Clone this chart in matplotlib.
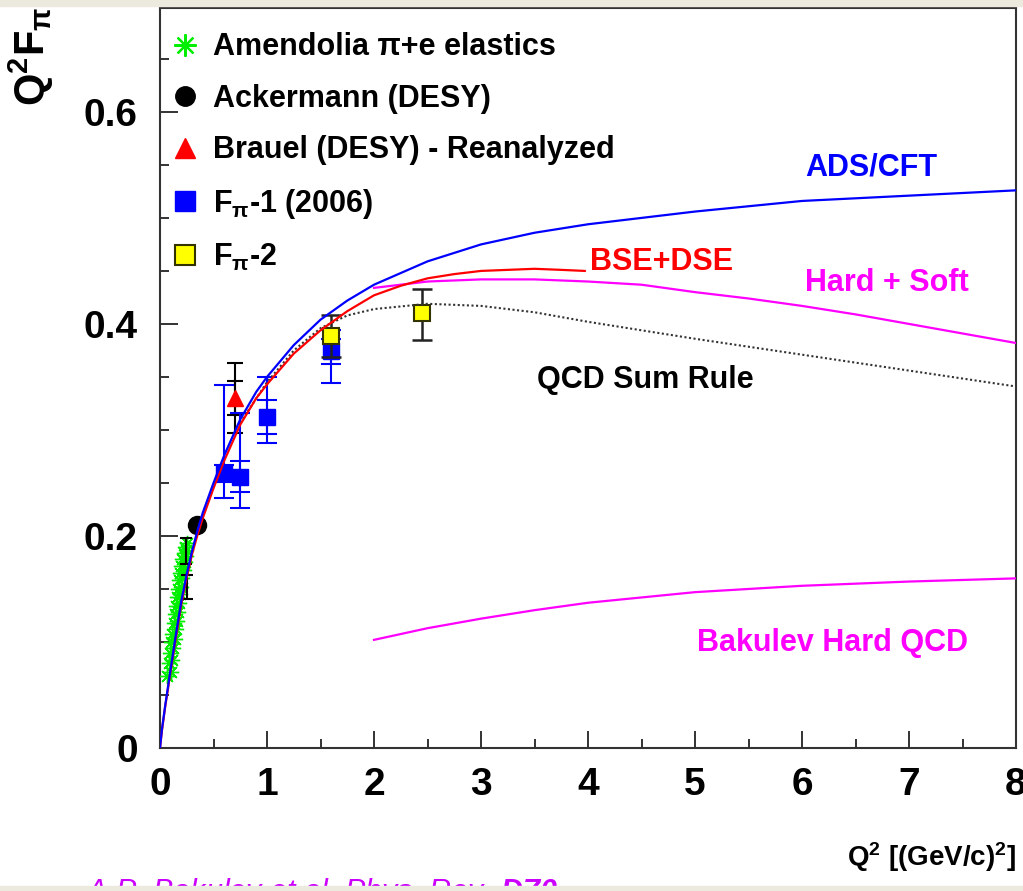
import matplotlib
matplotlib.use("Agg")
import matplotlib.pyplot as plt
from matplotlib.lines import Line2D
from matplotlib.patches import Rectangle
from matplotlib.ticker import MultipleLocator, FixedLocator, FixedFormatter

plt.rcParams["font.family"] = ["Liberation Sans", "DejaVu Sans"]
plt.rcParams["font.weight"] = "bold"
plt.rcParams["mathtext.fontset"] = "custom"
plt.rcParams["mathtext.rm"] = "Liberation Sans:bold"
plt.rcParams["mathtext.it"] = "Liberation Sans:italic:bold"
plt.rcParams["mathtext.bf"] = "Liberation Sans:italic:bold"

# ---- courbes theoriques ----
ads_q2 = [0, 0.01, 0.02, 0.035, 0.05, 0.075, 0.1, 0.15, 0.2, 0.25, 0.3, 0.35, 0.4, 0.5,
          0.6, 0.75, 0.9, 1.0, 1.25, 1.5, 1.75, 2.0, 2.5, 3.0, 3.5, 4.0, 4.5, 5.0, 6.0,
          7.0, 8.0]
ads = [0, 0.010, 0.019, 0.030, 0.041, 0.058, 0.075, 0.108, 0.139, 0.164, 0.186, 0.205,
       0.222, 0.250, 0.276, 0.310, 0.336, 0.350, 0.380, 0.404, 0.422, 0.437, 0.459,
       0.475, 0.486, 0.494, 0.500, 0.506, 0.516, 0.521, 0.526]

bse_q2 = [0, 0.01, 0.02, 0.035, 0.05, 0.075, 0.1, 0.15, 0.2, 0.25, 0.3, 0.35, 0.4, 0.5,
          0.6, 0.75, 0.9, 1.0, 1.25, 1.5, 1.75, 2.0, 2.25, 2.5, 2.75, 3.0, 3.25, 3.5,
          3.75, 3.97]
bse = [0, 0.009, 0.018, 0.029, 0.040, 0.056, 0.073, 0.105, 0.136, 0.161, 0.183, 0.201,
       0.217, 0.245, 0.271, 0.305, 0.330, 0.343, 0.372, 0.394, 0.412, 0.427, 0.436,
       0.443, 0.447, 0.450, 0.451, 0.452, 0.451, 0.450]

qcd_q2 = [0.75, 1.0, 1.25, 1.5, 1.75, 2.0, 2.5, 3.0, 3.5, 4.0, 4.5, 5.0, 6.0, 7.0, 8.0]
qcd = [0.307, 0.345, 0.375, 0.396, 0.408, 0.414, 0.419, 0.417, 0.411, 0.402, 0.394,
       0.386, 0.371, 0.356, 0.341]

hs_q2 = [2.0, 2.5, 3.0, 3.5, 4.0, 4.5, 5.0, 5.5, 6.0, 6.5, 7.0, 7.5, 8.0]
hs = [0.434, 0.440, 0.442, 0.442, 0.440, 0.437, 0.430, 0.424, 0.417, 0.409, 0.400,
      0.391, 0.382]

bk_q2 = [2.0, 2.5, 3.0, 3.5, 4.0, 4.5, 5.0, 5.5, 6.0, 7.0, 8.0]
bk = [0.102, 0.113, 0.122, 0.130, 0.137, 0.142, 0.147, 0.150, 0.153, 0.157, 0.160]

# ---- donnees experimentales ----
am_q2 = [0.07, 0.10, 0.08, 0.115, 0.095, 0.125, 0.105, 0.14, 0.115, 0.15, 0.13, 0.16,
         0.14, 0.17, 0.15, 0.18, 0.16, 0.19, 0.17, 0.20, 0.18, 0.21, 0.19, 0.22,
         0.20, 0.23, 0.21, 0.24, 0.22, 0.245, 0.23, 0.25]
am = [0.068, 0.072, 0.080, 0.083, 0.090, 0.094, 0.100, 0.103, 0.108, 0.112, 0.118,
      0.120, 0.126, 0.128, 0.134, 0.137, 0.142, 0.145, 0.150, 0.152, 0.158, 0.160,
      0.165, 0.168, 0.172, 0.175, 0.178, 0.181, 0.184, 0.187, 0.190, 0.193]
amx_q2 = [0.245, 0.255]          # barres noires isolees
amx = [0.186, 0.152]
amx_err = [0.012, 0.011]

ack_q2 = [0.35]
ack = [0.210]

br_q2 = [0.70]
br = [0.330]
br_stat = [0.016]
br_tot = [0.033]

fp1_q2 = [0.60, 0.75, 1.00, 1.60]
fp1 = [0.259, 0.256, 0.312, 0.374]
fp1_stat = [0.008, 0.015, 0.016, 0.012]
fp1_lo = [0.023, 0.030, 0.024, 0.030]
fp1_hi = [0.083, 0.060, 0.038, 0.020]

fp2_q2 = [1.60, 2.45]
fp2 = [0.389, 0.410]
fp2_lo = [0.020, 0.025]
fp2_hi = [0.019, 0.023]

xtick_vals = [0, 1, 2, 3, 4, 5, 6, 7, 8]
ytick_vals = [0, 0.2, 0.4, 0.6]
ytick_labels = ["0", "0.2", "0.4", "0.6"]

BLUE, RED, MAG, GREEN = "#0000ff", "#ff0000", "#ff00ff", "#00ee00"

W, H = 1023, 891
fig = plt.figure(figsize=(W / 100, H / 100), dpi=100)
fig.patch.set_facecolor("white")
ax = fig.add_axes([160 / W, 1 - 748 / H, (1016 - 160) / W, (748 - 8) / H])
ax.set_xlim(0, 8)
ax.set_ylim(0, 0.698)

# donnees
ax.plot(am_q2, am, ls="none", marker=(8, 2, 0), ms=11, mew=1.0, color=GREEN, zorder=3)
ax.errorbar(amx_q2, amx, yerr=amx_err, fmt="none", ecolor="black", elinewidth=1.5,
            capsize=4, capthick=1.5, zorder=3)
ax.plot(ack_q2, ack, ls="none", marker="o", ms=13, color="black", zorder=3)

ax.errorbar(br_q2, br, yerr=br_tot, fmt="none", ecolor="black", elinewidth=1.5,
            capsize=6, capthick=1.5, zorder=3)
ax.errorbar(br_q2, br, yerr=br_stat, fmt="none", ecolor="black", elinewidth=1.5,
            capsize=6, capthick=1.5, zorder=3)
ax.plot(br_q2, br, ls="none", marker="^", ms=11, color=RED, zorder=4)

ax.errorbar(fp1_q2, fp1, yerr=[fp1_lo, fp1_hi], fmt="none", ecolor=BLUE,
            elinewidth=1.5, capsize=7, capthick=1.5, zorder=3)
ax.errorbar(fp1_q2, fp1, yerr=fp1_stat, fmt="none", ecolor=BLUE, elinewidth=1.5,
            capsize=7, capthick=1.5, zorder=3)
ax.plot(fp1_q2, fp1, ls="none", marker="s", ms=12, color=BLUE, zorder=4)

ax.errorbar(fp2_q2, fp2, yerr=[fp2_lo, fp2_hi], fmt="none", ecolor="#222222",
            elinewidth=1.8, capsize=7, capthick=1.8, zorder=4)
ax.plot(fp2_q2, fp2, ls="none", marker="s", ms=12, mfc="#ffff00", mec="#333300",
        mew=1.5, zorder=5)

# courbes
ax.plot(qcd_q2, qcd, color="#333333", lw=1.5, ls=(0, (1, 1.2)), zorder=6)
ax.plot(hs_q2, hs, color=MAG, lw=1.6, zorder=6)
ax.plot(bk_q2, bk, color=MAG, lw=1.6, zorder=6)
ax.plot(bse_q2, bse, color=RED, lw=1.6, zorder=6)
ax.plot(ads_q2, ads, color=BLUE, lw=1.6, zorder=7)

# etiquettes des courbes
kw = dict(fontsize=22, fontweight="bold", ha="left", va="center")
ax.text(6.03, 0.548, "ADS/CFT", color=BLUE, **kw)
ax.text(4.02, 0.458, "BSE+DSE", color=RED, **kw)
ax.text(6.03, 0.439, "Hard + Soft", color=MAG, **kw)
ax.text(3.52, 0.347, "QCD Sum Rule", color="black", **kw)
ax.text(5.02, 0.099, "Bakulev Hard QCD", color=MAG, **kw)

# legende
handles = [
    Line2D([], [], ls="none", marker=(8, 2, 0), ms=16, mew=1.6, color=GREEN),
    Line2D([], [], ls="none", marker="o", ms=14, color="black"),
    Line2D([], [], ls="none", marker="^", ms=14, color=RED),
    Line2D([], [], ls="none", marker="s", ms=14, color=BLUE),
    Line2D([], [], ls="none", marker="s", ms=14, mfc="#ffff00", mec="#333300", mew=1.5),
]
labels = ["Amendolia \u03c0+e elastics", "Ackermann (DESY)",
          "Brauel (DESY) - Reanalyzed", r"F$_{\mathrm{\pi}}$-1 (2006)",
          r"F$_{\mathrm{\pi}}$-2"]
ax.legend(handles, labels, loc="upper left", bbox_to_anchor=(0.008, 0.967),
          frameon=False, fontsize=22, handlelength=1.2, handletextpad=0.3,
          labelspacing=0.70, borderaxespad=0, borderpad=0)

# axes
for s in ax.spines.values():
    s.set_linewidth(1.5)
    s.set_color("#333333")
ax.xaxis.set_major_locator(FixedLocator(xtick_vals))
ax.xaxis.set_minor_locator(MultipleLocator(0.5))
ax.yaxis.set_major_locator(FixedLocator(ytick_vals))
ax.yaxis.set_major_formatter(FixedFormatter(ytick_labels))
ax.yaxis.set_minor_locator(MultipleLocator(0.05))
ax.tick_params(which="both", direction="in", top=False, right=False,
               color="#333333", width=1.4, labelsize=28)
ax.tick_params(axis="x", which="major", length=12, pad=14)
ax.tick_params(axis="x", which="minor", length=6.5)
ax.tick_params(axis="y", which="major", length=13, pad=16)
ax.tick_params(axis="y", which="minor", length=6.5)

# titres d'axes
fig.text(31 / W, 1 - 106 / H, r"Q$^{2}$F$_{\mathrm{\pi}}$", rotation=90, fontsize=30,
         fontweight="bold", ha="center", va="bottom")
fig.text(1016 / W, 1 - 866 / H, r"Q$^{2}$ [(GeV/c)$^{2}$]", fontsize=20,
         fontweight="bold", ha="right", va="baseline")

# reference (coupee en bas)
fig.text(85 / W, 1 - 901 / H, r"A.P. Bakulev et al. Phys. Rev. $\mathbf{D70}$",
         fontsize=22, style="italic", fontweight="normal", color="#cc00ff",
         ha="left", va="baseline")

# bandes beiges haut / bas
band = "#ece9de"
fig.patches.append(Rectangle((0, 1 - 6 / H), 1, 6 / H, transform=fig.transFigure,
                             color=band, zorder=10))
fig.patches.append(Rectangle((0, 0), 1, 5 / H, transform=fig.transFigure,
                             color=band, zorder=10))

fig.savefig("out.png", dpi=100)
